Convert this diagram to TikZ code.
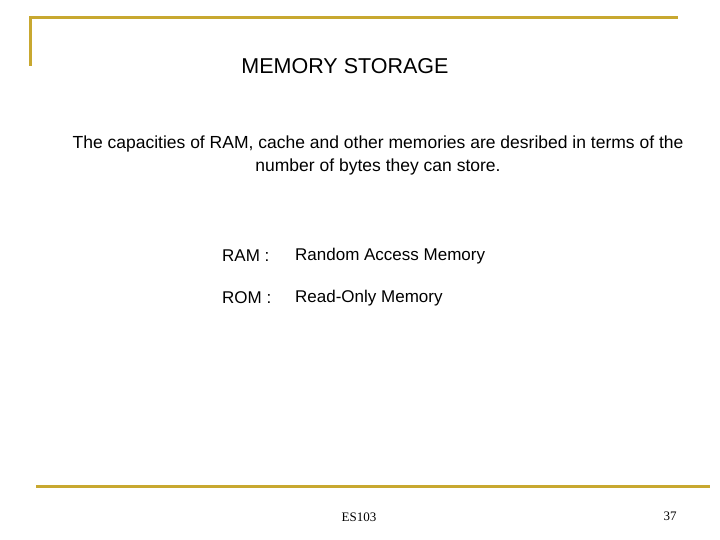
\documentclass[tikz,border=0pt]{standalone}
\usepackage{fontspec}
\setmainfont{Liberation Sans}
\newfontfamily\serif{Liberation Serif}
\definecolor{gold}{RGB}{200,168,48}
\begin{document}
\begin{tikzpicture}[x=1pt,y=-1pt,
  rule/.style={draw=gold,line width=3pt},
  txt/.style={inner sep=0pt,font=\fontsize{17}{20}\selectfont}]
\useasboundingbox (0,0) rectangle (720,540);
\coordinate (t1) at (30,18); \coordinate (t2) at (678,18); \coordinate (t3) at (30,66);
\coordinate (b1) at (36,486); \coordinate (b2) at (710,486);
\draw[rule] (t3) -- (t1) -- (t2);
\draw[rule] (b1) -- (b2);
\node[txt,font=\fontsize{21.5}{25}\selectfont] (title) at (345,66) {MEMORY STORAGE};
\node[txt,align=center,font=\fontsize{17.5}{23}\selectfont] (body) at (378,155) {The capacities of RAM, cache and other memories are desribed in terms of the\\number of bytes they can store.};
\node[txt,anchor=west] (ram) at (222,256) {RAM :};
\node[txt,anchor=west] (ramd) at (295,256) {Random Access Memory};
\node[txt,anchor=west] (rom) at (222,298) {ROM :};
\node[txt,anchor=west] (romd) at (295,298) {Read-Only Memory};
\node[inner sep=0pt,font=\serif\fontsize{13}{15}\selectfont] (es) at (359,517) {ES103};
\node[inner sep=0pt,font=\serif\fontsize{13}{15}\selectfont] (pg) at (670,516) {37};
\end{tikzpicture}
\end{document}
